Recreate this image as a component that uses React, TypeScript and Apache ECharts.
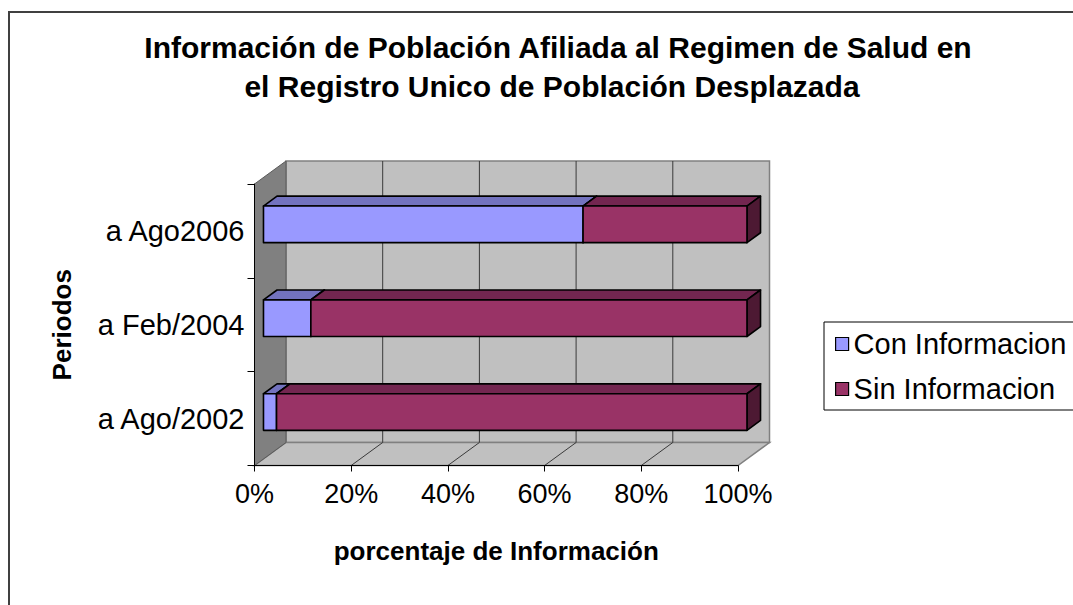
import React, { useEffect, useRef } from 'react';
import * as echarts from 'echarts';

const categories = ['a Ago/2002', 'a Feb/2004', 'a Ago2006'];
const conInformacion = [2.7, 9.8, 66.1];
const sinInformacion = [97.3, 90.2, 33.9];
const seriesNames = ['Con Informacion', 'Sin Informacion'];
const gridTickValues = [20, 40, 60, 80];
const titleLines = [
  'Información de Población Afiliada al Regimen de Salud en',
  'el Registro Unico de Población Desplazada',
];
const xAxisName = 'porcentaje de Información';
const yAxisName = 'Periodos';

const FONT = '"Liberation Sans", Arial, sans-serif';
const DEPTH = [31.5, -23];
const BAR_FRONT = 0.285;
const BAR_BACK = 0.715;
const BAR_THICK = 0.39;

const COLORS = {
  con: { front: '#9999ff', top: '#7373bf', side: '#4d4d80' },
  sin: { front: '#993366', top: '#732650', side: '#4d1933' },
};

function wallsRender(params: any, api: any) {
  const cs = params.coordSys;
  const [dx, dy] = DEPTH;
  const L = cs.x, T = cs.y, R = cs.x + cs.width, B = cs.y + cs.height;
  const children: any[] = [];
  children.push({
    type: 'polygon',
    shape: { points: [[L + dx, T + dy], [R + dx, T + dy], [R + dx, B + dy], [L + dx, B + dy]] },
    style: { fill: '#c0c0c0', stroke: '#808080', lineWidth: 1.5 },
  });
  children.push({
    type: 'polygon',
    shape: { points: [[L, B], [R, B], [R + dx, B + dy], [L + dx, B + dy]] },
    style: { fill: '#c0c0c0', stroke: '#808080', lineWidth: 1.5 },
  });
  children.push({
    type: 'polygon',
    shape: { points: [[L, T], [L + dx, T + dy], [L + dx, B + dy], [L, B]] },
    style: { fill: '#808080', stroke: '#5a5a5a', lineWidth: 1 },
  });
  gridTickValues.forEach((v) => {
    const x = api.coord([v, 0])[0];
    children.push({
      type: 'line',
      shape: { x1: x + dx, y1: T + dy, x2: x + dx, y2: B + dy },
      style: { stroke: '#3a3a3a', lineWidth: 1 },
    });
    children.push({
      type: 'line',
      shape: { x1: x, y1: B, x2: x + dx, y2: B + dy },
      style: { stroke: '#3a3a3a', lineWidth: 1 },
    });
  });
  return { type: 'group', children };
}

function makeBarRender(c: { front: string; top: string; side: string }) {
  return (params: any, api: any) => {
    const cat = api.value(0);
    const s = api.value(1);
    const e = api.value(2);
    const a = api.coord([s, cat]);
    const b = api.coord([e, cat]);
    const band = api.size([0, 1])[1];
    const h = band * BAR_THICK;
    const fx = DEPTH[0] * BAR_FRONT, fy = DEPTH[1] * BAR_FRONT;
    const bx = DEPTH[0] * (BAR_BACK - BAR_FRONT), by = DEPTH[1] * (BAR_BACK - BAR_FRONT);
    const x0 = a[0] + fx, x1 = b[0] + fx;
    const yT = a[1] + fy - h / 2, yB = yT + h;
    const stroke = { stroke: '#000', lineWidth: 1.6, lineJoin: 'round' };
    return {
      type: 'group',
      children: [
        { type: 'polygon', shape: { points: [[x0, yT], [x1, yT], [x1 + bx, yT + by], [x0 + bx, yT + by]] }, style: { fill: c.top, ...stroke } },
        { type: 'polygon', shape: { points: [[x1, yT], [x1 + bx, yT + by], [x1 + bx, yB + by], [x1, yB]] }, style: { fill: c.side, ...stroke } },
        { type: 'rect', shape: { x: x0, y: yT, width: x1 - x0, height: h }, style: { fill: c.front, ...stroke } },
      ],
    };
  };
}

export default function App() {
  const ref = useRef<HTMLDivElement>(null);
  useEffect(() => {
    if (!ref.current) return;
    const chart = echarts.init(ref.current, null, { renderer: 'svg' });
    const totals = categories.map((_, i) => conInformacion[i] + sinInformacion[i]);
    const conData = categories.map((_, i) => [i, 0, (conInformacion[i] / totals[i]) * 100]);
    const sinData = categories.map((_, i) => [i, (conInformacion[i] / totals[i]) * 100, 100]);
    chart.setOption({
      animation: false,
      backgroundColor: '#ffffff',
      textStyle: { fontFamily: FONT },
      grid: { left: 254.5, top: 184, width: 483.5, height: 281.5, containLabel: false },
      graphic: [
        { type: 'rect', z: 0, shape: { x: 9, y: 12, width: 1200, height: 800 }, style: { fill: 'none', stroke: '#404040', lineWidth: 2 } },
        { type: 'text', x: 558, y: 47, style: { text: titleLines[0], align: 'center', verticalAlign: 'middle', font: `bold 30px ${FONT}`, fill: '#000' } },
        { type: 'text', x: 552, y: 86, style: { text: titleLines[1], align: 'center', verticalAlign: 'middle', font: `bold 30px ${FONT}`, fill: '#000' } },
      ],
      legend: {
        orient: 'vertical',
        left: 824,
        top: 322,
        icon: 'rect',
        itemWidth: 13,
        itemHeight: 13,
        itemGap: 15,
        padding: [7, 30, 6, 11],
        borderColor: '#000',
        borderWidth: 1,
        backgroundColor: '#fff',
        textStyle: { fontSize: 29, color: '#000', fontFamily: FONT, lineHeight: 30 },
        data: [
          { name: seriesNames[0], itemStyle: { color: COLORS.con.front, borderColor: '#000', borderWidth: 1.2 } },
          { name: seriesNames[1], itemStyle: { color: COLORS.sin.front, borderColor: '#000', borderWidth: 1.2 } },
        ],
      },
      xAxis: {
        type: 'value',
        min: 0,
        max: 100,
        interval: 20,
        z: 2,
        axisLine: { show: true, lineStyle: { color: '#000', width: 1 } },
        axisTick: { show: true, length: 6, lineStyle: { color: '#000' } },
        splitLine: { show: false },
        axisLabel: { formatter: '{value}%', fontSize: 27, color: '#000', fontFamily: FONT, margin: 15 },
        name: xAxisName,
        nameLocation: 'middle',
        nameGap: 72,
        nameTextStyle: { fontWeight: 'bold', fontSize: 26, color: '#000', fontFamily: FONT },
      },
      yAxis: {
        type: 'category',
        data: categories,
        z: 2,
        axisLine: { show: true, lineStyle: { color: '#000', width: 1 } },
        axisTick: { show: true, length: 7, alignWithLabel: false, lineStyle: { color: '#000' } },
        splitLine: { show: false },
        axisLabel: { fontSize: 29, color: '#000', fontFamily: FONT, margin: 10 },
        name: yAxisName,
        nameLocation: 'middle',
        nameGap: 180,
        nameRotate: 90,
        nameTextStyle: { fontWeight: 'bold', fontSize: 26, color: '#000', fontFamily: FONT },
      },
      series: [
        {
          type: 'custom',
          name: 'walls',
          z: 1,
          silent: true,
          renderItem: wallsRender,
          data: [[0, 0, 0]],
          encode: { x: 0, y: 0 },
        },
        {
          type: 'custom',
          name: seriesNames[0],
          z: 3,
          itemStyle: { color: COLORS.con.front },
          renderItem: makeBarRender(COLORS.con),
          data: conData,
          encode: { x: [1, 2], y: 0 },
        },
        {
          type: 'custom',
          name: seriesNames[1],
          z: 3,
          itemStyle: { color: COLORS.sin.front },
          renderItem: makeBarRender(COLORS.sin),
          data: sinData,
          encode: { x: [1, 2], y: 0 },
        },
      ],
    });
    return () => chart.dispose();
  }, []);
  return <div ref={ref} style={{ position: 'absolute', left: 0, top: 0, width: 1073, height: 605 }} />;
}
